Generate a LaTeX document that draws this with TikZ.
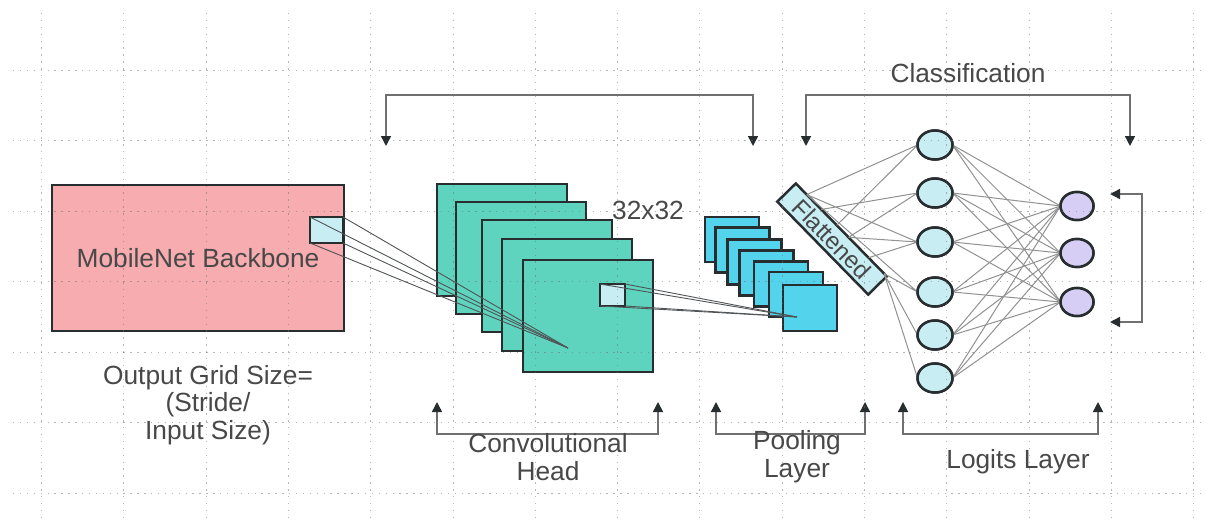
\documentclass[tikz,border=0pt]{standalone}
\usepackage{fontspec}
\setmainfont{Liberation Sans}
\usetikzlibrary{arrows.meta,calc,shapes.geometric}
\definecolor{pinkfill}{RGB}{247,172,175}
\definecolor{tealfill}{RGB}{94,212,190}
\definecolor{poolfill}{RGB}{84,212,236}
\definecolor{lightcyan}{RGB}{200,238,243}
\definecolor{lavender}{RGB}{214,206,245}
\definecolor{bordercol}{RGB}{40,46,48}
\definecolor{txtgray}{RGB}{72,72,72}
\definecolor{brkgray}{RGB}{112,112,112}
\definecolor{netgray}{RGB}{145,145,145}
\definecolor{rfgray}{RGB}{80,84,86}
\definecolor{gridcol}{RGB}{110,110,110}
\begin{document}
\begin{tikzpicture}[x=1pt,y=-1pt,
  lbl/.style={text=txtgray,font=\fontsize{26.3}{28}\selectfont,align=center,inner sep=0},
  shapebox/.style={draw=bordercol,line width=2.5pt,inner sep=0,outer sep=0},
  backbone/.style={shapebox,fill=pinkfill,minimum width=292pt,minimum height=146pt},
  rfbox/.style={shapebox,fill=lightcyan},
  convbox/.style={shapebox,fill=tealfill,minimum width=130pt,minimum height=112pt},
  poolbox/.style={shapebox,fill=poolfill,minimum width=54pt,minimum height=45pt},
  flatbox/.style={shapebox,fill=lightcyan,minimum width=130pt,minimum height=26pt,rotate=-45.6,
     text=txtgray,font=\fontsize{24}{24}\selectfont},
  hidden/.style={ellipse,shapebox,fill=lightcyan,minimum width=35pt,minimum height=29pt},
  outn/.style={ellipse,shapebox,fill=lavender,minimum width=33pt,minimum height=28pt},
  netline/.style={draw=netgray,line width=1pt},
  rfline/.style={draw=rfgray,line width=0.9pt},
  brk/.style={draw=brkgray,line width=1.5pt,{Triangle[length=10pt,width=10pt,color=bordercol]}-{Triangle[length=10pt,width=10pt,color=bordercol]}},
  gridline/.style={draw=gridcol,line width=0.9pt,dash pattern=on 1.4pt off 5.5pt,opacity=0.5}
]
\useasboundingbox[fill=white] (0,0) rectangle (1206,524);

% backbone
\node[backbone] (bb) at (198,258) {};
\node[lbl] (bbt) at (198,258) {MobileNet Backbone};
\node[rfbox,minimum width=33pt,minimum height=26pt] (rf1) at (326.5,230) {};

% convolutional stack
\node[convbox] (c1) at (502,240) {};
\node[convbox] (c2) at (521,258) {};
\node[convbox] (c3) at (547,276) {};
\node[convbox] (c4) at (567,295) {};
\node[convbox] (c5) at (588,316) {};
\node[rfbox,minimum width=25pt,minimum height=22pt] (rf2) at (612.5,295) {};
\coordinate (cp1) at (568,348);
\foreach \a in {north west,north east,south west,south east}
  \draw[rfline] (rf1.\a) -- (cp1);

% pooling stack
\node[poolbox] (p1) at (732,239.5) {};
\node[poolbox] (p2) at (742.5,250) {};
\node[poolbox] (p3) at (754.5,262) {};
\node[poolbox] (p4) at (766.5,273) {};
\node[poolbox] (p5) at (781,284) {};
\node[poolbox] (p6) at (796,294.5) {};
\node[poolbox,minimum height=46pt] (p7) at (810,308) {};
\coordinate (cp2) at (797,317);
\foreach \a in {north west,north east,south west,south east}
  \draw[rfline] (rf2.\a) -- (cp2);

% flattened
\node[flatbox] (fl) at (832,239) {Flattened};

% neurons
\node[hidden] (h1) at (935,145) {};
\node[hidden] (h2) at (935,193) {};
\node[hidden] (h3) at (935,242) {};
\node[hidden] (h4) at (935,292) {};
\node[hidden] (h5) at (935,335) {};
\node[hidden] (h6) at (935,378) {};
\node[outn] (o1) at (1077,206) {};
\node[outn] (o2) at (1077,253) {};
\node[outn] (o3) at (1077,302) {};

\coordinate (fa) at ($(fl.north west)!0.12!(fl.north east)$);
\coordinate (fb) at ($(fl.north west)!0.28!(fl.north east)$);
\coordinate (fc) at ($(fl.north west)!0.45!(fl.north east)$);
\coordinate (fd) at ($(fl.north west)!0.58!(fl.north east)$);
\coordinate (fe) at ($(fl.north west)!0.8!(fl.north east)$);
\coordinate (ff) at ($(fl.north west)!0.97!(fl.north east)$);
\draw[netline] (fa) -- (h1.west) (fa) -- (h3.west) (fa) -- (h4.west)
  (fb) -- (h2.west) (fc) -- (h1.west) (fd) -- (h2.west) (fd) -- (h3.west)
  (fe) -- (h3.west) (ff) -- (h4.west) (ff) -- (h5.west) (ff) -- (h6.west);
\foreach \i in {1,...,6}
  \foreach \j in {1,2,3}
    \draw[netline] (h\i.east) -- (o\j.west);
% redraw neurons on top of the connections
\foreach \y in {145,193,242,292,335,378}
  \node[hidden] at (935,\y) {};
\foreach \y in {206,253,302}
  \node[outn] at (1077,\y) {};

% brackets
\coordinate (tl1) at (386,146);
\coordinate (tr1) at (753,146);
\draw[brk] (tl1) -- ++(0,-51) -| (tr1);
\coordinate (tl2) at (806,146);
\coordinate (tr2) at (1130,146);
\draw[brk] (tl2) -- ++(0,-51) -| (tr2);
\coordinate (ra) at (1110,194);
\coordinate (rb) at (1110,322);
\draw[brk] (ra) -- ++(32,0) |- (rb);
\coordinate (bl1) at (437,402);
\coordinate (br1) at (658,402);
\draw[brk] (bl1) -- ++(0,32) -| (br1);
\coordinate (bl2) at (716,402);
\coordinate (br2) at (865,402);
\draw[brk] (bl2) -- ++(0,32) -| (br2);
\coordinate (bl3) at (903,402);
\coordinate (br3) at (1098,402);
\draw[brk] (bl3) -- ++(0,32) -| (br3);

% labels
\node[lbl] (cls) at (968,73) {Classification};
\node[lbl] (s32) at (648,210) {32x32};
\node[lbl,font=\fontsize{26.3}{27.5}\selectfont] (ogs) at (208,405) {Output Grid Size=\\(Stride/\\Input Size)};
\node[lbl] (convl) at (548,457) {Convolutional\\Head};
\node[lbl] (pooll) at (797,457) {Pooling\\Layer};
\node[lbl] (logl) at (1018,462) {Logits Layer};

% grid
\foreach \i in {0,...,14}
  \draw[gridline] ({41.5+82.3*\i},13) -- ({41.5+82.3*\i},524);
\foreach \j in {0,...,6}
  \draw[gridline] (13,{70+70.5*\j}) -- (1206,{70+70.5*\j});
\end{tikzpicture}
\end{document}
